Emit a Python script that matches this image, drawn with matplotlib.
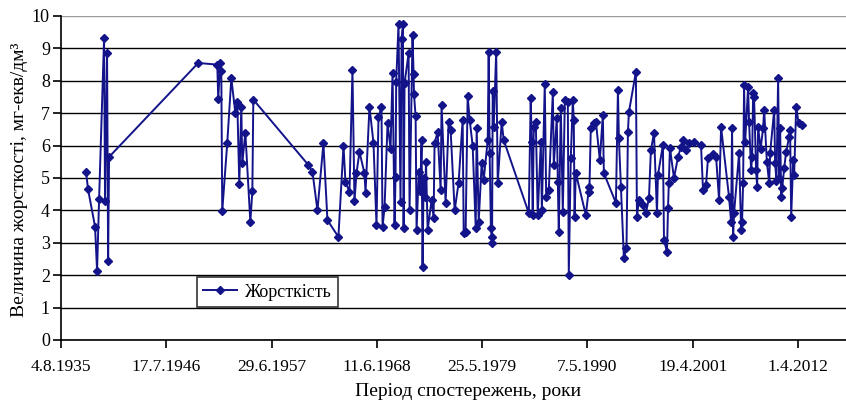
import datetime as dt
import matplotlib
matplotlib.use("Agg")
import matplotlib.pyplot as plt

# дата спостереження (десятковий рік) і жорсткість, мг-екв/дм3
obs_year = [
    1938.19, 1938.40, 1939.13, 1939.34, 1939.55, 1940.07, 1940.17, 1940.38, 1940.49, 1940.59,
    1949.86, 1951.84, 1951.94, 1952.15, 1952.26, 1952.36, 1952.88, 1953.30, 1953.72, 1953.92,
    1954.13, 1954.34, 1954.44, 1954.76, 1955.28, 1955.49, 1955.59,
    1961.32, 1961.74, 1962.26, 1962.88, 1963.30, 1964.44, 1964.97, 1965.17, 1965.59, 1965.90,
    1966.11, 1966.32, 1966.63, 1967.15, 1967.26, 1967.67, 1968.09, 1968.40, 1968.61, 1968.92,
    1969.03, 1969.24, 1969.55, 1969.86, 1970.07, 1970.28, 1970.38, 1970.45, 1970.69, 1970.90,
    1971.01, 1971.15, 1971.22, 1971.32, 1971.74, 1971.84, 1972.15, 1972.26, 1972.30, 1972.47,
    1972.57, 1972.80, 1972.95, 1973.09, 1973.19, 1973.30, 1973.45, 1973.55, 1973.72, 1974.13,
    1974.34, 1974.44, 1974.76, 1975.07, 1975.17, 1975.59, 1975.90, 1976.11, 1976.53, 1976.94,
    1977.36, 1977.47, 1977.67, 1977.88, 1978.09, 1978.40, 1978.72, 1978.82, 1979.03, 1979.34,
    1979.55, 1979.97, 1980.07, 1980.17, 1980.30, 1980.38, 1980.42, 1980.49, 1980.59, 1980.85,
    1981.01, 1981.42, 1981.63,
    1984.24, 1984.44, 1984.55, 1984.65, 1984.76, 1984.97, 1985.17, 1985.49, 1985.60, 1985.90,
    1986.05, 1986.32, 1986.74, 1986.84, 1987.15, 1987.26, 1987.36, 1987.57, 1987.78, 1987.99,
    1988.30, 1988.40, 1988.61, 1988.82, 1988.92, 1989.00, 1989.13, 1990.17, 1990.45, 1990.55,
    1990.69, 1991.01, 1991.22, 1991.63, 1991.94, 1992.05, 1993.30, 1993.51, 1993.61, 1993.82,
    1994.13, 1994.40, 1994.55, 1994.65, 1995.38, 1995.49, 1995.69, 1996.11, 1996.42, 1996.74,
    1996.94, 1997.26, 1997.57, 1997.67, 1998.19, 1998.30, 1998.61, 1998.72, 1998.80, 1998.92,
    1999.34, 1999.76, 2000.07, 2000.28, 2000.60, 2000.90, 2001.42, 2002.15, 2002.36, 2002.67,
    2002.88, 2003.40, 2003.72, 2004.03, 2004.24, 2005.07, 2005.28, 2005.38, 2005.49, 2005.59,
    2006.11, 2006.32, 2006.42, 2006.53, 2006.63, 2006.74, 2007.05, 2007.15, 2007.36, 2007.47,
    2007.57, 2007.67, 2007.88, 2007.99, 2008.09, 2008.35, 2008.61, 2008.72, 2009.00, 2009.24,
    2009.34, 2009.76, 2009.86, 2010.00, 2010.17, 2010.30, 2010.38, 2010.49, 2010.60, 2010.80,
    2011.00, 2011.32, 2011.42, 2011.53, 2011.74, 2011.84, 2012.05, 2012.30, 2012.67,
]
hardness = [
    5.2, 4.65, 3.5, 2.13, 4.35, 9.32, 4.3, 8.85, 2.45, 5.65,
    8.55, 8.5, 7.45, 8.55, 8.3, 3.98, 6.08, 8.08, 7.0, 7.35,
    4.83, 7.2, 5.45, 6.4, 3.65, 4.6, 7.42,
    5.4, 5.19, 4.0, 6.07, 3.7, 3.18, 6.0, 4.88, 4.57, 8.33,
    4.29, 5.15, 5.8, 5.15, 4.55, 7.2, 6.08, 3.55, 6.88, 7.2,
    3.5, 4.1, 6.7, 5.9, 8.23, 3.55, 5.03, 7.97, 9.75, 4.26,
    9.3, 9.75, 3.46, 7.93, 8.85, 4.0, 9.4, 8.2, 7.6, 6.9,
    3.4, 5.2, 4.6, 6.17, 2.25, 5.0, 4.4, 5.5, 3.4, 4.32,
    3.77, 6.08, 6.42, 4.63, 7.25, 4.23, 6.73, 6.48, 4.0, 4.85,
    6.8, 3.3, 3.33, 7.53, 6.8, 6.0, 3.46, 6.55, 3.65, 5.46,
    4.94, 6.17, 8.89, 5.77, 3.46, 3.18, 3.0, 7.7, 6.57, 8.89,
    4.85, 6.73, 6.17,
    3.92, 7.47, 6.1, 3.86, 6.57, 6.73, 3.86, 6.1, 4.0, 7.9,
    4.4, 4.63, 7.65, 5.4, 6.85, 4.88, 3.33, 7.15, 3.95, 7.4,
    7.35, 2.0, 5.62, 7.4, 6.8, 3.8, 5.15, 3.86, 4.57, 4.72,
    6.55, 6.7, 6.73, 5.55, 6.95, 5.15, 4.23, 7.72, 6.23, 4.72,
    2.53, 2.84, 6.42, 7.03, 8.27, 3.8, 4.32, 4.17, 3.92, 4.38,
    5.86, 6.39, 3.92, 5.09, 6.02, 3.09, 2.72, 4.07, 4.85, 5.93,
    5.0, 5.65, 5.96, 6.17, 5.85, 6.08, 6.1, 6.02, 4.63, 4.78,
    5.62, 5.74, 5.65, 4.32, 6.57, 4.4, 3.65, 6.54, 3.18, 3.92,
    5.77, 3.4, 3.65, 4.85, 7.87, 6.1, 7.8, 6.73, 5.25, 5.65,
    7.62, 7.5, 5.25, 4.72, 6.57, 5.9, 6.54, 7.1, 5.5, 4.85,
    5.77, 7.1, 5.46, 4.9, 8.08, 5.0, 6.54, 4.4, 4.7, 5.3,
    5.8, 6.27, 6.48, 3.8, 5.56, 5.1, 7.2, 6.7, 6.64,
]


def to_date(y):
    yr = int(y)
    return dt.datetime(yr, 1, 1) + dt.timedelta(days=(y - yr) * 365.25)


dates = [to_date(y) for y in obs_year]

plt.rcParams["font.family"] = ["Liberation Serif", "DejaVu Serif"]

fig = plt.figure(figsize=(8.46, 4.0), dpi=100)
ax = fig.add_axes([61 / 846, 60 / 400, 785 / 846, 324 / 400])

line_color = "#13138A"
ax.plot(dates, hardness, color=line_color, lw=1.4, marker="D", ms=4.3,
        markerfacecolor=line_color, markeredgecolor=line_color, label="Жорсткість",
        zorder=3)

start = dt.datetime(1935, 8, 4)
ax.set_xlim(start, start + dt.timedelta(days=29820))
ax.set_ylim(0, 10)
ticks = [start + dt.timedelta(days=4000 * i) for i in range(8)]
ax.set_xticks(ticks)
ax.set_xticklabels([f"{d.day}.{d.month}.{d.year}" for d in ticks])
ax.set_yticks(range(0, 11))

ax.yaxis.grid(True, color="black", lw=1.0)
ax.set_axisbelow(True)
gl = ax.get_ygridlines()
gl[-1].set_color("#9a9a9a")

for s in ["top", "right"]:
    ax.spines[s].set_visible(False)
ax.spines["left"].set_linewidth(1.2)
ax.spines["bottom"].set_linewidth(1.2)

ax.tick_params(axis="x", direction="out", length=6, width=1.2, pad=8, labelsize=12.5)
ax.tick_params(axis="y", direction="out", length=6, width=1.2, pad=2, labelsize=13)

fig.text(20 / 846, 1 - 180 / 400, "Величина жорсткості, мг-екв/дм³", rotation=90,
         ha="center", va="center", fontsize=14)
fig.text(468 / 846, 1 - 392 / 400, "Період спостережень, роки",
         ha="center", va="center", fontsize=14)

leg = ax.legend(loc="lower left", bbox_to_anchor=(0.173, 0.102), borderaxespad=0,
                fontsize=13, frameon=True, fancybox=False, handlelength=1.9,
                handletextpad=0.4, borderpad=0.35)
leg.get_frame().set_edgecolor("black")
leg.get_frame().set_linewidth(1.2)

fig.savefig("out.png", dpi=100)
